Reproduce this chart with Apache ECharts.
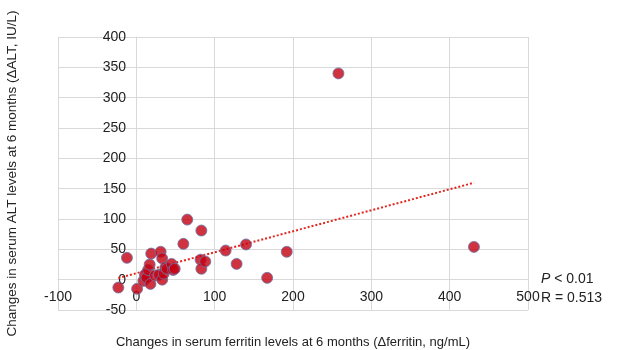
<!DOCTYPE html>
<html>
<head>
<meta charset="utf-8">
<style>
  html, body { margin: 0; padding: 0; background: #fff; }
  #chart-container { width: 630px; height: 350px; }
</style>
<script src="https://cdn.jsdelivr.net/npm/echarts@6/dist/echarts.min.js"></script>
</head>
<body>
<div id="chart-container"></div>
<script>
var dom = document.getElementById("chart-container");
var myChart = echarts.init(dom, null, { renderer: "canvas" });

// change in ferritin (ng/mL) vs change in ALT (IU/L)
const ferritinChange = [-23, -12, 1, 9, 11, 13, 15, 17, 18, 19, 24, 29, 31, 33, 33, 35, 37, 39, 45, 47, 49, 60, 65, 82, 83, 83, 88, 114, 128, 140, 167, 192, 258, 431];
const altChange = [-13, 36, -15, -2, 8, 3, 16, 25, -7, 43, 7, 8, 46, 35, 0, 10, 20, 18, 26, 16, 18, 59, 99, 33, 81, 18, 30, 48, 26, 58, 3, 46, 340, 54];

// fitted line
const trendSlope = 0.346;
const trendIntercept = 10.6;

const xTicks = { min: -100, max: 500, interval: 100 };
const yTicks = { min: -50, max: 400, interval: 50 };

const points = ferritinChange.map((x, i) => [x, altChange[i]]);
const xLo = Math.min(...ferritinChange);
const xHi = Math.max(...ferritinChange);
const trend = [xLo, xHi].map((x) => [x, trendSlope * x + trendIntercept]);

const gridColor = "#d9d9d9";
const textColor = "#222";
const font = "Liberation Sans, Arial, sans-serif";

// axes cross at zero (Excel style); onZero is not honoured here, so shift them
var option = {
  backgroundColor: "#fff",
  animation: false,
  grid: { left: 58, right: 102, top: 37, bottom: 40, outerBoundsMode: "none" },
  xAxis: {
    type: "value",
    min: xTicks.min,
    max: xTicks.max,
    interval: xTicks.interval,
    offset: -31,
    name: "Changes in serum ferritin levels at 6 months (\u0394ferritin, ng/mL)",
    nameLocation: "middle",
    nameGap: 57,
    nameTextStyle: { color: textColor, fontSize: 13, fontFamily: font },
    axisLine: { show: true, onZero: false, lineStyle: { color: gridColor } },
    axisTick: { show: false },
    axisLabel: { color: textColor, fontSize: 14, fontFamily: font, margin: 11 },
    splitLine: { lineStyle: { color: gridColor } }
  },
  yAxis: {
    type: "value",
    min: yTicks.min,
    max: yTicks.max,
    interval: yTicks.interval,
    offset: -78,
    name: "Changes in serum ALT levels at 6 months (\u0394ALT, IU/L)",
    nameLocation: "middle",
    nameGap: 117,
    nameTextStyle: { color: textColor, fontSize: 13.5, fontFamily: font },
    axisLine: { show: true, onZero: false, lineStyle: { color: gridColor } },
    axisTick: { show: false },
    axisLabel: { color: textColor, fontSize: 14, fontFamily: font, margin: 10 },
    splitLine: { lineStyle: { color: gridColor } }
  },
  series: [
    {
      name: "trend",
      type: "line",
      data: trend,
      symbol: "none",
      lineStyle: { color: "#e3261f", width: 2, type: [2, 2] },
      z: 1
    },
    {
      name: "patients",
      type: "scatter",
      data: points,
      symbolSize: 11,
      itemStyle: { color: "#c40010", borderColor: "#6a76a8", borderWidth: 1 },
      z: 2
    }
  ],
  graphic: [
    {
      type: "text",
      left: 541,
      top: 270,
      style: {
        text: "{i|P} < 0.01\nR = 0.513",
        fill: textColor,
        font: "14px " + font,
        lineHeight: 19,
        rich: {
          i: { fontStyle: "italic", fontSize: 14, fontFamily: font, fill: textColor }
        }
      }
    }
  ]
};

if (option && typeof option === "object") {
  myChart.setOption(option);
}

window.addEventListener("resize", myChart.resize);
</script>
</body>
</html>
